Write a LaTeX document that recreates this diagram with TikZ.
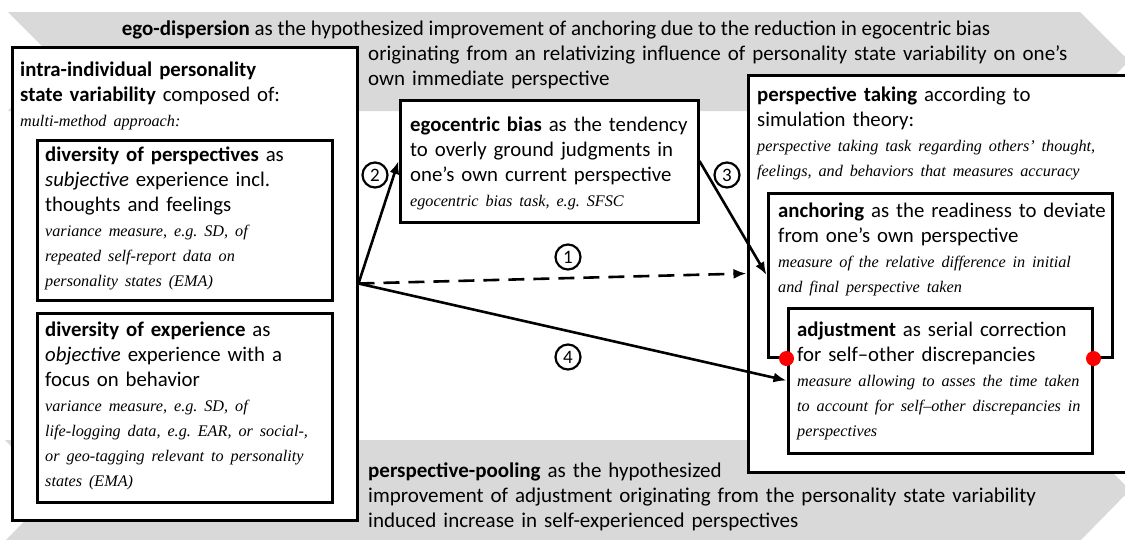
\documentclass[tikz,border=0pt]{standalone}
\usepackage{fontspec}
\setmainfont{Carlito}
\newfontfamily\measfont[Ligatures=TeX]{Liberation Serif}
\usetikzlibrary{arrows.meta,shadows}
\definecolor{bandgray}{RGB}{217,217,217}
\newcommand{\meas}[1]{{\fontsize{16.2}{25}\selectfont\measfont\itshape #1}}
\frenchspacing

\begin{document}
\begin{tikzpicture}[x=1pt, y=-1pt,
    box/.style = {draw, line width=3pt, fill=white,
        drop shadow={shadow xshift=2pt, shadow yshift=-2pt, opacity=0.3}},
    txt/.style = {anchor=north west, align=left, inner sep=0pt, text width=400pt,
        font=\fontsize{20.8}{25}\selectfont},
    bandtxt/.style = {anchor=north west, align=left, inner sep=0pt, text width=760pt,
        font=\fontsize{21}{25}\selectfont},
    num/.style = {draw, circle, line width=2.2pt, inner sep=0pt, minimum size=25pt,
        font=\fontsize{19}{19}\selectfont},
    dot/.style = {circle, fill=red, inner sep=0pt, minimum size=15pt},
    arr/.style = {line width=2.6pt, -{Latex[length=13pt, width=10pt]}}]
        \clip (0,0) rectangle (1125,539);
        % grey chevrons
        \fill[bandgray] (8,12) -- (1080,12) -- (1129,61) -- (1080,111) -- (8,111) -- (57,61) -- cycle;
        \fill[bandgray] (5,440) -- (1080,440) -- (1130,490) -- (1080,541) -- (5,541) -- (55,490) -- cycle;
        \node[bandtxt, text width=, anchor=base] (disp1) at (556,35)
            {\textbf{ego-dispersion} as the hypothesized improvement of anchoring due to the reduction in egocentric bias};
        \node[bandtxt] (disp2) at (368,45)
            {originating from an relativizing influence of personality state variability on one’s\\
             own immediate perspective};
        \node[bandtxt] (pool) at (368,463)
            {\textbf{perspective-pooling} as the hypothesized\\
             improvement of adjustment originating from the personality state variability\\
             induced increase in self-experienced perspectives};
        % left side
        \node[box, minimum width=345pt, minimum height=473pt] (var) at (184.5,283.5) {};
        \node[txt] (vartxt) at (20,62)
            {\textbf{intra-individual personality}\\
             \textbf{state variability} composed of:\\
             \meas{multi-method approach:}};
        \node[box, minimum width=295pt, minimum height=160pt] (persp) at (184.5,220) {};
        \node[txt] (persptxt) at (45,147)
            {\textbf{diversity of perspectives} as\\
             \textit{subjective} experience incl.\\
             thoughts and feelings\\
             \meas{variance measure, e.g. SD, of}\\
             \meas{repeated self-report data on}\\
             \meas{personality states (EMA)}};
        \node[box, minimum width=295pt, minimum height=189pt] (exper) at (184.5,407.5) {};
        \node[txt] (expertxt) at (45,322)
            {\textbf{diversity of experience} as\\
             \textit{objective} experience with a\\
             focus on behavior\\
             \meas{variance measure, e.g. SD, of}\\
             \meas{life-logging data, e.g. EAR, or social-,}\\
             \meas{or geo-tagging relevant to personality}\\
             \meas{states (EMA)}};
        % middle
        \node[box, minimum width=298pt, minimum height=122pt] (ego) at (549,161) {};
        \node[txt] (egotxt) at (410,117)
            {\textbf{egocentric bias} as the tendency\\
             to overly ground judgments in\\
             one’s own current perspective\\
             \meas{egocentric bias task, e.g. SFSC}};
        % right side
        \node[box, minimum width=379pt, minimum height=397pt] (pt) at (937.5,273.5) {};
        \node[txt] (pttxt) at (757,87)
            {\textbf{perspective taking} according to\\
             simulation theory:\\
             \meas{perspective taking task regarding others’ thought,}\\
             \meas{feelings, and behaviors that measures accuracy}};
        \node[box, minimum width=344pt, minimum height=164pt] (anch) at (940,275) {};
        \node[txt] (anchtxt) at (778,203)
            {\textbf{anchoring} as the readiness to deviate\\
             from one’s own perspective\\
             \meas{measure of the relative difference in initial}\\
             \meas{and final perspective taken}};
        \node[box, minimum width=304pt, minimum height=145pt] (adj) at (940,380.5) {};
        \node[txt] (adjtxt) at (797,322)
            {\textbf{adjustment} as serial correction\\
             for self--other discrepancies\\
             \meas{measure allowing to asses the time taken}\\
             \meas{to account for self--other discrepancies in}\\
             \meas{perspectives}};
        \node[dot] (dotl) at (adj.west |- anch.south) {};
        \node[dot] (dotr) at (adj.east |- anch.south) {};
        % paths
        \draw[arr] (var.east) -- (ego.west);
        \draw[arr] (ego.east) -- (anch.west);
        \draw[arr, dash pattern=on 16pt off 9pt] (var.east) -- (pt.west);
        \draw[arr] (var.east) -- (adj.west);
        \node[num] (n1) at (568,257) {1};
        \node[num] (n2) at (375,175) {2};
        \node[num] (n3) at (727,175) {3};
        \node[num] (n4) at (568,357) {4};
    \end{tikzpicture}
\end{document}
